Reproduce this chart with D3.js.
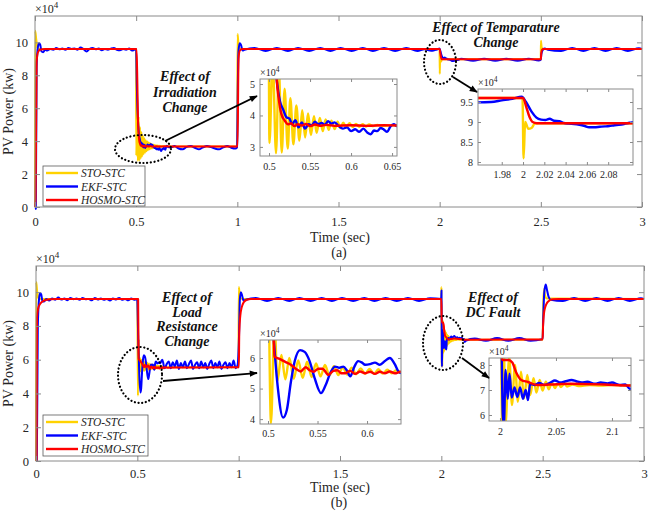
<!DOCTYPE html>
<html>
<head>
<meta charset="utf-8">
<script src="https://cdn.jsdelivr.net/npm/d3@7.9.0/dist/d3.min.js"></script>
<style>
  body { margin: 0; background: #fff; }
  svg { display: block; font-family: 'Liberation Serif', 'Times New Roman', serif; }
</style>
</head>
<body>
<svg id="chart" width="648" height="512"></svg>
<script>
// ---- data (values in x10^4 kW, time in s) ----
const seriesNames = ['STO-STC', 'EKF-STC', 'HOSMO-STC'];
const xTicksMain = [0, 0.5, 1, 1.5, 2, 2.5, 3];
const yTicksMain = [0, 2, 4, 6, 8, 10];

// (a) irradiation / temperature change
const stoA = [[0,0],[0.001,10.7],[0.006,10.2],[0.012,9.7],[0.02,9.6],[0.499,9.6],
  [0.5005,3.12],[0.5045,5.8],[0.5085,2.8],[0.512,5.5],[0.5155,2.82],[0.519,4.85],[0.5228,2.95],[0.526,4.55],
  [0.5297,3.08],[0.5333,4.32],[0.537,3.2],[0.5405,4.17],[0.544,3.3],[0.5476,4.06],[0.551,3.38],[0.5548,3.98],
  [0.558,3.45],[0.562,3.92],[0.5655,3.5],[0.569,3.87],[0.5728,3.54],[0.576,3.83],[0.58,3.57],[0.5835,3.8],
  [0.587,3.6],[0.5905,3.77],[0.594,3.62],[0.598,3.75],[0.602,3.63],[0.606,3.73],[0.61,3.64],[0.614,3.72],
  [0.618,3.65],[0.622,3.71],[0.627,3.66],[0.632,3.7],[0.64,3.67],[0.65,3.69],[0.66,3.68],[0.999,3.68],
  [1.001,10.5],[1.005,10.0],[1.01,9.65],[1.02,9.6],[1.9995,9.6],
  [2.0005,8.09],[2.002,9.0],[2.005,8.83],[2.008,8.85],[2.011,8.96],[2.015,8.97],[2.4995,8.97],
  [2.5005,10.1],[2.504,9.7],[2.51,9.6],[3,9.6]];

const ekfA = [[0,-0.1],[0.004,-0.1],[0.008,8.5],[0.014,9.7],[0.02,9.95],[0.026,9.85],[0.032,9.45],[0.04,9.4],[0.05,9.55],
  [0.06,9.5],[0.075,9.6],[0.09,9.55],[0.105,9.65],[0.12,9.58],[0.135,9.62],[0.15,9.55],[0.165,9.65],[0.18,9.6],
  [0.195,9.62],[0.21,9.55],[0.225,9.68],[0.24,9.58],[0.255,9.45],[0.27,9.6],[0.285,9.65],[0.3,9.58],[0.315,9.62],
  [0.33,9.52],[0.345,9.6],[0.36,9.55],[0.375,9.62],[0.39,9.66],[0.405,9.55],[0.42,9.52],[0.435,9.6],[0.45,9.55],
  [0.465,9.62],[0.48,9.5],[0.495,9.58],
  [0.5,9.6],[0.503,7.5],[0.507,5.8],[0.51,5.0],[0.5134,4.44],[0.5175,4.17],[0.521,3.95],[0.525,3.9],[0.528,3.72],
  [0.532,3.85],[0.536,3.62],[0.54,3.78],[0.544,3.58],[0.548,3.72],[0.552,3.68],[0.556,3.8],[0.56,3.72],[0.564,3.76],
  [0.568,3.7],[0.572,3.82],[0.576,3.74],[0.58,3.78],[0.585,3.66],[0.59,3.58],[0.595,3.62],[0.6,3.5],[0.605,3.56],
  [0.61,3.48],[0.615,3.58],[0.62,3.45],[0.624,3.4],[0.628,3.52],[0.632,3.5],[0.636,3.6],[0.64,3.55],[0.644,3.48],
  [0.648,3.65],[0.652,3.72],[0.656,3.66],
  [0.67,3.62],[0.69,3.7],[0.71,3.55],[0.73,3.5],[0.75,3.65],[0.77,3.7],[0.79,3.6],[0.81,3.5],[0.83,3.62],[0.85,3.7],
  [0.87,3.64],[0.89,3.55],[0.91,3.5],[0.93,3.62],[0.95,3.7],[0.97,3.6],[0.99,3.55],[0.999,3.62],
  [1.002,7.0],[1.006,9.5],[1.012,9.95],[1.018,9.85],[1.026,9.5],[1.035,9.55],
  [1.085,9.66],[1.14,9.48],[1.195,9.66],[1.25,9.48],[1.3,9.66],[1.355,9.48],[1.41,9.66],[1.46,9.48],[1.51,9.66],
  [1.565,9.48],[1.62,9.66],[1.67,9.48],[1.725,9.66],[1.78,9.48],[1.835,9.66],[1.89,9.48],[1.925,9.58],[1.958,9.49],
  [1.97,9.5],[1.98,9.54],[1.99,9.58],[1.9988,9.63],[2.0028,9.5],[2.008,9.26],[2.0126,9.11],[2.017,9.06],[2.021,9.05],
  [2.025,9.08],[2.029,9.03],[2.034,9.02],[2.038,8.98],[2.043,8.96],[2.048,8.95],[2.053,8.93],[2.058,8.9],[2.062,8.87],
  [2.067,8.87],[2.072,8.88],[2.077,8.89],[2.081,8.9],[2.086,8.92],[2.09,8.93],[2.095,8.95],[2.1,8.98],[2.105,9.0],
  [2.165,8.88],[2.22,9.0],[2.275,8.88],[2.33,9.0],[2.385,8.88],[2.44,9.0],[2.49,8.9],[2.499,8.93],
  [2.503,9.3],[2.51,9.55],[2.52,9.62],[2.535,9.55],
  [2.6,9.48],[2.655,9.66],[2.71,9.48],[2.765,9.66],[2.82,9.48],[2.875,9.66],[2.93,9.48],[2.985,9.64],[3,9.6]];

const hosmoA = [[0,0],[0.003,0.5],[0.008,8.8],[0.015,9.4],[0.025,9.55],[0.05,9.6],[0.502,9.6],
  [0.506,7.5],[0.509,5.3],[0.512,4.5],[0.515,4.05],[0.519,3.84],[0.523,3.72],[0.527,3.75],[0.531,3.66],[0.535,3.72],
  [0.54,3.68],[0.545,3.73],[0.55,3.66],[0.556,3.71],[0.562,3.67],[0.57,3.7],[0.58,3.67],[0.6,3.69],[0.62,3.67],
  [0.64,3.69],[0.66,3.68],[1.001,3.68],[1.006,9.0],[1.012,9.5],[1.025,9.6],[2.0,9.6],
  [2.003,9.38],[2.006,9.13],[2.009,9.0],[2.013,8.97],[2.5,8.97],[2.502,9.3],[2.506,9.55],[2.512,9.6],[3,9.6]];

// (b) load resistance change / DC fault
const stoB = [[0,0],[0.001,10.6],[0.006,10.0],[0.012,9.65],[0.02,9.6],[0.4995,9.6],
  [0.503,3.87],[0.5065,7.2],[0.5095,5.25],[0.5135,6.1],[0.5175,5.3],[0.5215,6.0],[0.526,5.32],[0.5305,5.92],
  [0.535,5.35],[0.5395,5.88],[0.544,5.38],[0.5485,5.82],[0.553,5.4],[0.5575,5.77],[0.562,5.42],[0.5665,5.73],
  [0.571,5.44],[0.5755,5.7],[0.58,5.46],[0.5845,5.68],[0.589,5.47],[0.5935,5.66],[0.598,5.48],[0.6025,5.64],
  [0.607,5.48],[0.6115,5.63],[0.616,5.49],[0.6205,5.62],[0.625,5.5],[0.6295,5.6],[0.634,5.52],[0.64,5.58],
  [0.65,5.54],[0.66,5.56],[0.999,5.56],
  [1.0005,10.3],[1.005,9.9],[1.01,9.62],[1.02,9.6],[1.9995,9.6],
  [2.0005,10.3],[2.002,5.6],[2.0035,8.6],[2.0048,5.6],[2.0083,8.3],[2.0107,6.4],[2.0134,8.0],[2.016,6.53],
  [2.0188,7.73],[2.0215,6.67],[2.0244,7.6],[2.027,6.8],[2.03,7.47],[2.0325,6.9],[2.0355,7.4],[2.038,6.98],
  [2.041,7.33],[2.0435,7.03],[2.0465,7.3],[2.049,7.08],[2.052,7.27],[2.0545,7.12],[2.0575,7.25],[2.06,7.14],
  [2.065,7.22],[2.07,7.16],[2.08,7.2],[2.09,7.18],[2.1,7.2],[2.12,7.18],[2.4995,7.18],
  [2.503,9.4],[2.507,10.2],[2.512,9.8],[2.52,9.62],[3,9.6]];

const ekfB = [[0,0],[0.004,0],[0.009,8.0],[0.015,9.6],[0.02,9.95],[0.026,9.85],[0.032,9.45],[0.04,9.45],[0.05,9.6],
  [0.065,9.5],[0.08,9.62],[0.095,9.55],[0.11,9.68],[0.125,9.56],[0.14,9.62],[0.155,9.52],[0.17,9.65],[0.185,9.58],
  [0.2,9.62],[0.215,9.55],[0.23,9.65],[0.245,9.58],[0.26,9.6],[0.275,9.52],[0.29,9.66],[0.305,9.57],[0.32,9.62],
  [0.335,9.55],[0.35,9.6],[0.365,9.5],[0.38,9.62],[0.395,9.57],[0.41,9.66],[0.425,9.55],[0.44,9.6],[0.455,9.52],
  [0.47,9.62],[0.485,9.55],[0.4995,9.6],
  [0.503,8.0],[0.5054,6.8],[0.51,5.0],[0.5152,4.05],[0.519,4.3],[0.523,5.2],[0.527,5.9],[0.5323,6.26],[0.537,6.2],
  [0.542,5.9],[0.547,5.35],[0.5535,4.85],[0.558,5.1],[0.5635,5.55],[0.5677,5.72],[0.572,5.68],[0.576,5.72],
  [0.5795,5.6],[0.583,5.4],[0.587,5.7],[0.591,5.9],[0.595,5.85],[0.598,5.78],[0.603,5.8],[0.608,5.85],[0.613,5.78],
  [0.618,5.9],[0.623,6.0],[0.628,5.8],[0.632,5.55],[0.636,5.5],
  [0.645,5.75],[0.655,5.9],[0.665,5.5],[0.675,5.85],[0.685,5.6],[0.695,5.95],[0.705,5.45],[0.715,5.8],[0.725,5.55],
  [0.735,5.9],[0.745,5.5],[0.755,5.75],[0.765,5.95],[0.775,5.45],[0.785,5.7],[0.795,5.85],[0.805,5.5],[0.815,5.9],
  [0.825,5.55],[0.835,5.8],[0.845,5.45],[0.855,5.75],[0.865,5.95],[0.875,5.5],[0.885,5.8],[0.895,5.55],[0.905,5.9],
  [0.915,5.45],[0.925,5.7],[0.935,5.85],[0.945,5.5],[0.955,5.8],[0.965,5.55],[0.975,5.95],[0.985,5.5],[0.995,5.7],
  [1.002,7.5],[1.006,9.6],[1.011,10.0],[1.017,9.8],[1.024,9.5],[1.035,9.55],
  [1.085,9.66],[1.14,9.48],[1.195,9.66],[1.25,9.48],[1.3,9.66],[1.355,9.48],[1.41,9.66],[1.46,9.48],[1.51,9.66],
  [1.565,9.48],[1.62,9.66],[1.67,9.48],[1.725,9.66],[1.78,9.48],[1.835,9.66],[1.89,9.48],[1.945,9.64],[1.9995,9.6],
  [2.0008,10.1],[2.0025,6.0],[2.0035,5.6],[2.005,7.8],[2.007,6.65],[2.0085,7.65],[2.0105,6.7],[2.013,7.1],
  [2.0155,6.72],[2.018,7.1],[2.0205,6.65],[2.023,7.0],[2.025,6.6],[2.027,7.25],[2.031,7.2],[2.035,7.28],[2.04,7.2],
  [2.045,7.3],[2.049,7.38],[2.054,7.3],[2.058,7.34],[2.064,7.4],[2.068,7.35],[2.073,7.3],[2.078,7.33],[2.085,7.25],
  [2.09,7.3],[2.096,7.26],[2.1,7.3],[2.107,7.2],[2.112,7.22],[2.116,7.05],[2.12,7.12],
  [2.165,7.25],[2.22,7.12],[2.275,7.28],[2.33,7.12],[2.385,7.28],[2.44,7.12],[2.4995,7.22],
  [2.503,8.5],[2.508,10.0],[2.515,10.45],[2.522,10.1],[2.53,9.7],[2.54,9.55],
  [2.6,9.48],[2.655,9.66],[2.71,9.48],[2.765,9.66],[2.82,9.48],[2.875,9.66],[2.93,9.48],[2.985,9.64],[3,9.6]];

const hosmoB = [[0,0],[0.003,0],[0.005,8.5],[0.01,9.0],[0.02,9.3],[0.04,9.5],[0.07,9.58],[0.1,9.6],[0.504,9.6],
  [0.5055,7.0],[0.5065,6.04],[0.511,5.98],[0.517,5.88],[0.523,5.78],[0.528,5.65],[0.533,5.56],[0.538,5.7],
  [0.542,5.6],[0.546,5.55],[0.551,5.65],[0.555,5.65],[0.561,5.45],[0.566,5.58],[0.57,5.6],[0.574,5.5],[0.578,5.5],
  [0.583,5.58],[0.588,5.48],[0.593,5.56],[0.598,5.5],[0.603,5.55],[0.608,5.48],[0.613,5.55],[0.618,5.5],
  [0.623,5.56],[0.628,5.5],[0.634,5.55],[0.65,5.53],[1.0,5.55],
  [1.001,5.55],[1.003,7.6],[1.008,8.6],[1.015,9.1],[1.025,9.4],[1.04,9.55],[1.06,9.6],[2.0,9.6],
  [2.002,8.2],[2.0075,8.2],[2.011,8.1],[2.0145,7.7],[2.019,7.4],[2.025,7.32],[2.033,7.2],[2.045,7.22],
  [2.063,7.25],[2.093,7.22],[2.117,7.18],[2.5,7.2],
  [2.502,8.0],[2.51,9.0],[2.527,9.45],[2.55,9.58],[2.58,9.6],[3,9.6]];

// inset tick values
const a1XTicks = [0.5, 0.55, 0.6, 0.65], a1YTicks = [3, 4, 5];
const a2XTicks = [1.98, 2, 2.02, 2.04, 2.06, 2.08], a2YTicks = [8, 8.5, 9, 9.5];
const b1XTicks = [0.5, 0.55, 0.6], b1YTicks = [4, 5, 6];
const b2XTicks = [2, 2.05, 2.1], b2YTicks = [6, 7, 8];

// ---- drawing ----
const colors = ['#ffd200', '#0000ff', '#ff0000'];
const frameColor = '#8a8a8a';
const textColor = '#262626';
const serif = "'Liberation Serif', 'Times New Roman', serif";
const svg = d3.select('#chart');

svg.append('defs').append('marker')
  .attr('id', 'arrow').attr('viewBox', '0 -5 10 10')
  .attr('refX', 9).attr('refY', 0)
  .attr('markerWidth', 10).attr('markerHeight', 8)
  .attr('markerUnits', 'userSpaceOnUse').attr('orient', 'auto')
  .append('path').attr('d', 'M0,-4L10,0L0,4Z').attr('fill', '#000');

const fmt = d => String(+d.toFixed(3));

function styleAxis(g, size) {
  g.attr('font-family', serif).attr('font-size', size);
  g.select('.domain').remove();
  g.selectAll('.tick line').attr('stroke', frameColor);
  g.selectAll('.tick text').attr('fill', textColor).attr('font-family', serif)
    .style('font-size', size + 'px').style('font-family', serif);
}

function drawAxes(root, box, x, y, xTicks, yTicks, o) {
  root.append('g').attr('transform', `translate(0,${box.bottom})`)
    .call(d3.axisBottom(x).tickValues(xTicks).tickSize(-o.tick).tickPadding(o.padX).tickFormat(fmt))
    .call(g => styleAxis(g, o.font));
  root.append('g').attr('transform', `translate(0,${box.top})`)
    .call(d3.axisTop(x).tickValues(xTicks).tickSize(-o.tick).tickFormat(''))
    .call(g => styleAxis(g, o.font));
  root.append('g').attr('transform', `translate(${box.left},0)`)
    .call(d3.axisLeft(y).tickValues(yTicks).tickSize(-o.tick).tickPadding(o.padY).tickFormat(fmt))
    .call(g => styleAxis(g, o.font));
  root.append('g').attr('transform', `translate(${box.right},0)`)
    .call(d3.axisRight(y).tickValues(yTicks).tickSize(-o.tick).tickFormat(''))
    .call(g => styleAxis(g, o.font));
  root.append('rect')
    .attr('x', box.left).attr('y', box.top)
    .attr('width', box.right - box.left).attr('height', box.bottom - box.top)
    .attr('fill', 'none').attr('stroke', frameColor).attr('stroke-width', 1);
}

function expLabel(root, x, y, size) {
  const t = root.append('text').attr('x', x).attr('y', y)
    .attr('fill', textColor).style('font-size', size + 'px');
  t.append('tspan').text('×10');
  t.append('tspan').attr('dy', -size * 0.45).style('font-size', (size * 0.75) + 'px').text('4');
}

function drawLines(root, series, x, y, width) {
  const line = d3.line().x(d => x(d[0])).y(d => y(d[1])).curve(d3.curveMonotoneX);
  series.forEach((s, i) => {
    root.append('path').datum(s).attr('d', line)
      .attr('fill', 'none').attr('stroke', colors[i])
      .attr('stroke-width', width).attr('stroke-linejoin', 'round');
  });
}

function drawInset(root, cfg, series, id) {
  const box = cfg.box;
  const x = d3.scaleLinear().domain(cfg.xDomain).range([box.left, box.right]);
  const y = d3.scaleLinear().domain(cfg.yDomain).range([box.bottom, box.top]);
  const g = root.append('g');
  g.append('clipPath').attr('id', id).append('rect')
    .attr('x', box.left).attr('y', box.top)
    .attr('width', box.right - box.left).attr('height', box.bottom - box.top);
  g.append('rect').attr('x', box.left).attr('y', box.top)
    .attr('width', box.right - box.left).attr('height', box.bottom - box.top).attr('fill', '#fff');
  const lines = g.append('g').attr('clip-path', `url(#${id})`);
  drawLines(lines, series, x, y, 2.4);
  drawAxes(g, box, x, y, cfg.xTicks, cfg.yTicks, { tick: 3, font: 10, padX: cfg.padX, padY: cfg.padY });
  expLabel(g, box.left, box.top - 3, 10);
}

function drawNote(root, n) {
  const t = root.append('text').attr('text-anchor', 'middle')
    .style('font-size', '14px').style('font-weight', 'bold').style('font-style', 'italic').attr('fill', '#111');
  n.lines.forEach((s, i) => t.append('tspan').attr('x', n.x).attr('y', n.y + i * n.step).text(s));
  root.append('ellipse').attr('cx', n.ell[0]).attr('cy', n.ell[1]).attr('rx', n.ell[2]).attr('ry', n.ell[3])
    .attr('fill', 'none').attr('stroke', '#000').attr('stroke-width', 2.2)
    .attr('stroke-dasharray', '0.1,3.6').attr('stroke-linecap', 'round');
  root.append('line').attr('x1', n.arrow[0]).attr('y1', n.arrow[1]).attr('x2', n.arrow[2]).attr('y2', n.arrow[3])
    .attr('stroke', '#000').attr('stroke-width', 1.8).attr('marker-end', 'url(#arrow)');
}

function drawLegend(root, lg) {
  const g = root.append('g');
  g.append('rect').attr('x', lg.x).attr('y', lg.y).attr('width', lg.w).attr('height', lg.h)
    .attr('fill', '#fff').attr('stroke', '#5a5a5a').attr('stroke-width', 0.8);
  seriesNames.forEach((name, i) => {
    const yy = lg.y + 7 + i * lg.step;
    g.append('line').attr('x1', lg.x + 3).attr('x2', lg.x + 35).attr('y1', yy).attr('y2', yy)
      .attr('stroke', colors[i]).attr('stroke-width', 2.4);
    g.append('text').attr('x', lg.x + 38).attr('y', yy + 4)
      .style('font-size', '11.5px').style('font-style', 'italic').attr('fill', textColor).text(name);
  });
}

function drawPanel(p) {
  const root = svg.append('g');
  const box = p.box;
  const x = d3.scaleLinear().domain([0, 3]).range([box.left, box.right]);
  const y = d3.scaleLinear().domain([0, p.yMax]).range([box.bottom, box.top]);

  drawLines(root.append('g'), p.series, x, y, 2);
  drawAxes(root, box, x, y, xTicksMain, yTicksMain, { tick: 5, font: 12.5, padX: p.padX, padY: 7 });
  expLabel(root, box.left, box.top - 3, 12);

  root.append('text').attr('transform', `translate(13,${(box.top + box.bottom) / 2}) rotate(-90)`)
    .attr('text-anchor', 'middle').style('font-size', '14px').attr('fill', textColor).text('PV Power (kw)');
  root.append('text').attr('x', 340).attr('y', p.timeY).attr('text-anchor', 'middle')
    .style('font-size', '14px').attr('fill', textColor).text('Time (sec)');
  root.append('text').attr('x', 339).attr('y', p.timeY + 15).attr('text-anchor', 'middle')
    .style('font-size', '14px').attr('fill', textColor).text(p.label);

  drawLegend(root, p.legend);
  p.insets.forEach((c, i) => drawInset(root, c, p.series, `clip-${p.id}${i}`));
  p.notes.forEach(n => drawNote(root, n));
}

const panels = [
  {
    id: 'a', label: '(a)', box: { left: 35, right: 642, top: 16, bottom: 207 }, yMax: 11.6, padX: 10, timeY: 242,
    series: [stoA, ekfA, hosmoA],
    legend: { x: 43, y: 166, w: 102, h: 40, step: 13.5 },
    insets: [
      { box: { left: 260, right: 397, top: 79, bottom: 156 }, xDomain: [0.489, 0.656], yDomain: [2.71, 5.16],
        xTicks: a1XTicks, yTicks: a1YTicks, padX: 7, padY: 5 },
      { box: { left: 478, right: 633, top: 89, bottom: 165 }, xDomain: [1.9577, 2.1033], yDomain: [7.925, 9.825],
        xTicks: a2XTicks, yTicks: a2YTicks, padX: 6, padY: 5 }
    ],
    notes: [
      { lines: ['Effect of', 'Irradiation', 'Change'], x: 185, y: 81, step: 15.5,
        ell: [143, 149, 28, 14], arrow: [165, 141, 257, 96] },
      { lines: ['Effect of Temparature', 'Change'], x: 496, y: 32, step: 15,
        ell: [440, 62, 16, 22], arrow: [453, 77, 477, 92] }
    ]
  },
  {
    id: 'b', label: '(b)', box: { left: 36, right: 644, top: 266, bottom: 461 }, yMax: 11.55, padX: 8, timeY: 492,
    series: [stoB, ekfB, hosmoB],
    legend: { x: 43, y: 415, w: 105, h: 41, step: 13.5 },
    insets: [
      { box: { left: 260, right: 401, top: 340, bottom: 424 }, xDomain: [0.4919, 0.6343], yDomain: [3.84, 6.59],
        xTicks: b1XTicks, yTicks: b1YTicks, padX: 5.5, padY: 5 },
      { box: { left: 489, right: 631, top: 358, bottom: 421 }, xDomain: [1.9902, 2.117], yDomain: [5.76, 8.28],
        xTicks: b2XTicks, yTicks: b2YTicks, padX: 7, padY: 4 }
    ],
    notes: [
      { lines: ['Effect of', 'Load', 'Resistance', 'Change'], x: 187, y: 302, step: 14.5,
        ell: [140, 375, 22, 28], arrow: [163, 381, 257, 373] },
      { lines: ['Effect of', 'DC Fault'], x: 493, y: 302, step: 14.5,
        ell: [443, 343, 20, 27], arrow: [462, 358, 489, 378] }
    ]
  }
];

panels.forEach(drawPanel);
</script>
</body>
</html>
